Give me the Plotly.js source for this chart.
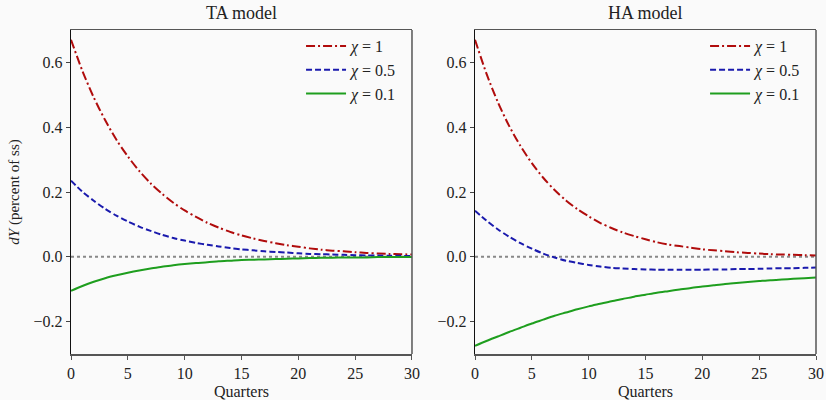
<!DOCTYPE html>
<html>
<head>
<meta charset="utf-8">
<script src="https://cdn.plot.ly/plotly-3.0.1.min.js"></script>
<style>html,body{margin:0;padding:0;background:#fafafa;}#chart{width:826px;height:400px;}</style>
</head>
<body>
<div id="chart"></div>
<script>
const quarters = Array.from({length: 31}, (_, i) => i);
const seriesNames = ['<i>χ</i> = 1', '<i>χ</i> = 0.5', '<i>χ</i> = 0.1'];
const panelTitles = ['TA model', 'HA model'];
const xTicks = [0, 5, 10, 15, 20, 25, 30];
const yTicks = [-0.2, 0.0, 0.2, 0.4, 0.6];

const taChi1 = [0.670,0.574,0.492,0.422,0.361,0.310,0.265,0.227,0.195,0.167,0.143,0.123,0.105,0.090,0.077,0.066,0.057,0.049,0.042,0.036,0.031,0.026,0.022,0.019,0.017,0.014,0.012,0.010,0.009,0.008,0.007];
const taChi05 = [0.235,0.201,0.173,0.148,0.127,0.109,0.093,0.080,0.068,0.058,0.050,0.043,0.037,0.032,0.027,0.023,0.020,0.017,0.015,0.013,0.011,0.009,0.008,0.007,0.006,0.005,0.004,0.004,0.003,0.003,0.002];
const taChi01 = [-0.105,-0.090,-0.077,-0.066,-0.057,-0.049,-0.042,-0.036,-0.031,-0.026,-0.022,-0.019,-0.017,-0.014,-0.012,-0.010,-0.009,-0.008,-0.007,-0.006,-0.005,-0.004,-0.003,-0.003,-0.002,-0.002,-0.002,-0.001,-0.001,-0.001,-0.001];

const haChi1 = [0.670,0.566,0.478,0.404,0.342,0.289,0.244,0.206,0.174,0.147,0.125,0.105,0.089,0.075,0.064,0.054,0.045,0.038,0.033,0.028,0.023,0.020,0.017,0.014,0.012,0.010,0.008,0.007,0.006,0.005,0.004];
const haChi05 = [0.142,0.112,0.085,0.062,0.042,0.025,0.010,-0.002,-0.012,-0.019,-0.025,-0.030,-0.034,-0.036,-0.038,-0.039,-0.040,-0.040,-0.040,-0.040,-0.040,-0.039,-0.039,-0.038,-0.038,-0.037,-0.036,-0.035,-0.035,-0.034,-0.033];
const haChi01 = [-0.275,-0.260,-0.246,-0.232,-0.219,-0.206,-0.194,-0.182,-0.172,-0.162,-0.153,-0.145,-0.137,-0.130,-0.123,-0.117,-0.111,-0.106,-0.101,-0.096,-0.092,-0.088,-0.084,-0.081,-0.078,-0.075,-0.072,-0.070,-0.068,-0.066,-0.064];

const colors = ['#b00c0c', '#1a1aad', '#1e9e1e'];
const dashes = ['9px,3px,2px,3px', '6px,3px', 'solid'];
const FONT = 'Liberation Serif, DejaVu Serif, serif';
const TXT = '#222';

const panels = [[taChi1, taChi05, taChi01], [haChi1, haChi05, haChi01]];
const traces = [];
panels.forEach((set, p) => {
  set.forEach((ys, k) => {
    traces.push({
      x: quarters, y: ys, type: 'scatter', mode: 'lines',
      name: seriesNames[k],
      xaxis: p === 0 ? 'x' : 'x2', yaxis: p === 0 ? 'y' : 'y2',
      legend: p === 0 ? 'legend' : 'legend2',
      line: {color: colors[k], width: 2, dash: dashes[k], shape: 'spline', smoothing: 0.8}
    });
  });
});

function xax(domain, anchor) {
  return {domain: domain, anchor: anchor, range: [0, 30], tickvals: xTicks, ticks: 'outside', ticklen: 4,
    tickcolor: '#555', showgrid: false, zeroline: false, showline: true, linecolor: '#555', linewidth: 1.5,
    mirror: true, tickfont: {family: FONT, size: 16, color: TXT},
    title: {text: 'Quarters', font: {family: FONT, size: 16, color: TXT}, standoff: 6}};
}
function yax(anchor) {
  return {anchor: anchor, range: [-0.3, 0.7], tickvals: yTicks, tickformat: '.1f', ticks: 'outside', ticklen: 4,
    tickcolor: '#444', showgrid: false, zeroline: false, showline: true, linecolor: '#111', linewidth: 1.3,
    tickfont: {family: FONT, size: 16, color: TXT}};
}
const legendStyle = {font: {family: FONT, size: 16, color: TXT}, bgcolor: 'rgba(0,0,0,0)', borderwidth: 0,
  xanchor: 'right', yanchor: 'top', y: 1.003, tracegroupgap: 0, itemwidth: 40};

const layout = {
  width: 826, height: 400,
  paper_bgcolor: '#fafafa', plot_bgcolor: '#fafafa',
  margin: {l: 71, r: 10, t: 30, b: 46},
  showlegend: true,
  xaxis: xax([0, 0.4577], 'y'),
  yaxis: Object.assign(yax('x'), {title: {text: '<i>dY</i> (percent of ss)', font: {family: FONT, size: 15, color: TXT}, standoff: 10}}),
  xaxis2: xax([0.5423, 1], 'y2'),
  yaxis2: yax('x2'),
  legend: Object.assign({x: 0.4577 - 0.012}, legendStyle),
  legend2: Object.assign({x: 1 - 0.012}, legendStyle),
  shapes: [
    {type: 'line', xref: 'x domain', yref: 'y', x0: 0, x1: 1, y0: 0, y1: 0, line: {color: '#888', width: 2, dash: 'dot'}, layer: 'below'},
    {type: 'line', xref: 'x2 domain', yref: 'y2', x0: 0, x1: 1, y0: 0, y1: 0, line: {color: '#888', width: 2, dash: 'dot'}, layer: 'below'},
    {type: 'line', xref: 'x domain', yref: 'y domain', x0: 1, x1: 1, y0: 0, y1: 1, line: {color: '#555', width: 1.5}},
    {type: 'line', xref: 'x2 domain', yref: 'y2 domain', x0: 1, x1: 1, y0: 0, y1: 1, line: {color: '#555', width: 1.5}}
  ],
  annotations: panelTitles.map((t, i) => ({
    text: t, xref: i === 0 ? 'x domain' : 'x2 domain', yref: 'paper', x: 0.5, y: 1, yshift: 5,
    xanchor: 'center', yanchor: 'bottom', showarrow: false, font: {family: FONT, size: 18, color: TXT}
  }))
};

Plotly.newPlot('chart', traces, layout, {displayModeBar: false, staticPlot: true});
</script>
</body>
</html>
